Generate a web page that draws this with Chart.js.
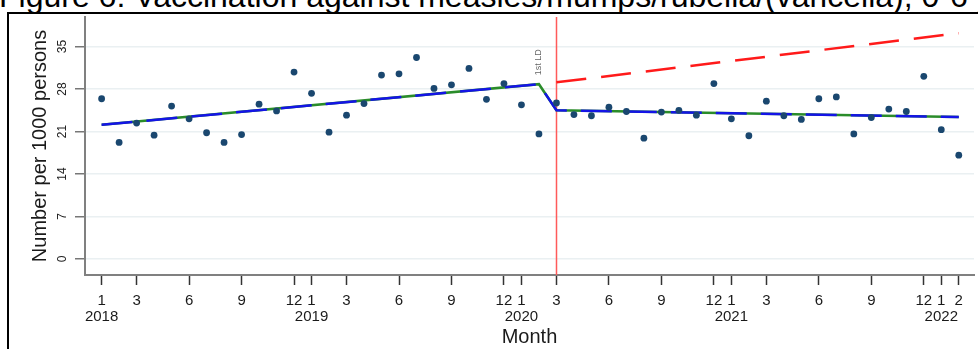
<!DOCTYPE html>
<html>
<head>
<meta charset="utf-8">
<script src="https://cdn.jsdelivr.net/npm/chart.js@4.4.1/dist/chart.umd.min.js"></script>
<style>
  html, body { margin: 0; padding: 0; width: 978px; height: 349px; overflow: hidden; background: #fff;
               font-family: "Liberation Sans", Arial, sans-serif; }
  #title { position: absolute; left: -1px; top: -24px; font-size: 32px; line-height: 40px; white-space: nowrap; color: #000; }
  #frame { position: absolute; left: 7px; top: 12px; width: 2000px; height: 1000px; border: 2px solid #000; box-sizing: border-box; }
  #wrap { position: absolute; left: 0; top: 0; width: 978px; height: 349px; }
</style>
</head>
<body>
<div id="title">Figure 6: Vaccination against measles/mumps/rubella/(varicella), 0-6 years</div>
<div id="frame"></div>
<div id="wrap"><canvas id="c" width="978" height="349"></canvas></div>
<script>
// Months counted from January 2018 (0) to February 2022 (49)
const months = [0, 1, 2, 3, 4, 5, 6, 7, 8, 9, 10, 11, 12, 13, 14, 15, 16, 17, 18, 19, 20, 21, 22, 23, 24,
                25, 26, 27, 28, 29, 30, 31, 32, 33, 34, 35, 36, 37, 38, 39, 40, 41, 42, 43, 44, 45, 46, 47, 48, 49];

// Observed vaccinations per 1000 persons
const rates = [26.4, 19.2, 22.4, 20.4, 25.2, 23.1, 20.8, 19.2, 20.5, 25.5, 24.4, 30.8,
               27.3, 20.9, 23.7, 25.6, 30.3, 30.5, 33.2, 28.1, 28.7, 31.4, 26.3, 28.9,
               25.4, 20.6, 25.7, 23.8, 23.6, 25.0, 24.3, 19.9, 24.2, 24.5, 23.7, 28.9,
               23.1, 20.3, 26.0, 23.6, 23.0, 26.4, 26.7, 20.6, 23.3, 24.7, 24.3, 30.1,
               21.3, 17.1];

// Segmented regression fit (pre / post first lockdown)
const fitMonths = [0, 25, 26, 49];
const fitValues = [22.1, 28.8, 24.5, 23.4];

// Counterfactual: pre-lockdown trend continued
const cfMonths = [26, 49];
const cfValues = [29.1, 37.2];

// First lockdown, March 2020
const lockdownMonth = 26;
const lockdownLabel = '1st LD';

// Axis ticks
const yTicks = [0, 7, 14, 21, 28, 35];
const xTickMonths = [0, 2, 5, 8, 11, 12, 14, 17, 20, 23, 24, 26, 29, 32, 35, 36, 38, 41, 44, 47, 48, 49];
const xTickLabels = [['1', '2018'], '3', '6', '9', '12', ['1', '2019'], '3', '6', '9', '12', ['1', '2020'], '3',
                     '6', '9', '12', ['1', '2021'], '3', '6', '9', '12', ['1', '2022'], '2'];

const FONT = '"Liberation Sans", Arial, sans-serif';
Chart.defaults.font.family = FONT;

const toXY = (xs, ys) => xs.map((x, i) => ({ x: x, y: ys[i] }));

const markers = {
  id: 'markers',
  beforeDatasetsDraw(chart) {
    const { ctx, chartArea: a, scales: { x, y } } = chart;
    const px = Math.round(x.getPixelForValue(lockdownMonth)) + 0.5;
    ctx.save();
    ctx.strokeStyle = '#ff5a5a';
    ctx.lineWidth = 1.5;
    ctx.beginPath();
    ctx.moveTo(px, a.top);
    ctx.lineTo(px, a.bottom);
    ctx.stroke();
    // vertical caption beside the lockdown line
    ctx.translate(x.getPixelForValue(lockdownMonth - 1), y.getPixelForValue(32.4));
    ctx.rotate(-Math.PI / 2);
    ctx.font = '9px ' + FONT;
    ctx.fillStyle = '#666';
    ctx.textAlign = 'center';
    ctx.textBaseline = 'middle';
    ctx.fillText(lockdownLabel, 0, 0);
    ctx.restore();
  }
};

new Chart(document.getElementById('c'), {
  type: 'scatter',
  data: {
    datasets: [
      {
        data: toXY(months, rates),
        backgroundColor: '#1a476f',
        borderColor: '#1a476f',
        pointRadius: 3.4,
        pointBorderWidth: 0,
        order: 0
      },
      {
        data: toXY(fitMonths, fitValues),
        showLine: true,
        borderColor: '#1414e6',
        borderWidth: 2.5,
        borderDash: [31, 14],
        pointRadius: 0,
        order: 1
      },
      {
        data: toXY(fitMonths, fitValues),
        showLine: true,
        borderColor: '#2a8c2a',
        borderWidth: 2.5,
        pointRadius: 0,
        order: 2
      },
      {
        data: toXY(cfMonths, cfValues),
        showLine: true,
        borderColor: '#ff1a1a',
        borderWidth: 2.5,
        borderDash: [30, 15],
        pointRadius: 0,
        order: 1
      }
    ]
  },
  options: {
    responsive: false,
    animation: false,
    devicePixelRatio: 1,
    layout: { padding: { top: 17, left: 0, right: 0, bottom: 0 } },
    plugins: { legend: { display: false }, tooltip: { enabled: false } },
    scales: {
      x: {
        type: 'linear',
        min: -0.95,
        max: 49.87,
        afterBuildTicks: s => { s.ticks = xTickMonths.map(v => ({ value: v })); },
        afterFit: s => { s.height = 74; },
        grid: { drawOnChartArea: false, drawTicks: true, tickLength: 10, tickColor: '#333', tickWidth: 1.5 },
        border: { color: '#808080', width: 2 },
        ticks: {
          autoSkip: false, maxRotation: 0, minRotation: 0, padding: 8, color: '#1a1a1a',
          font: { size: 15, lineHeight: 16 / 15 },
          callback: v => { const i = xTickMonths.indexOf(v); return i >= 0 ? xTickLabels[i] : ''; }
        },
        title: { display: true, text: 'Month', color: '#1a1a1a', font: { size: 20 }, padding: { top: 0, bottom: 0 } }
      },
      y: {
        min: -2.64,
        max: 39.87,
        afterBuildTicks: s => { s.ticks = yTicks.map(v => ({ value: v })); },
        afterFit: s => { s.width = 85; },
        grid: { color: '#eaf0f2', lineWidth: 1.5, tickColor: '#777', tickLength: 10, tickWidth: 1.5 },
        border: { color: '#808080', width: 2 },
        ticks: { minRotation: 90, maxRotation: 90, crossAlign: 'center', padding: 6, color: '#222', font: { size: 12 } },
        title: { display: true, text: 'Number per 1000 persons', color: '#1a1a1a', font: { size: 20 }, padding: { top: 28, bottom: 0 } }
      }
    }
  },
  plugins: [markers]
});
</script>
</body>
</html>
